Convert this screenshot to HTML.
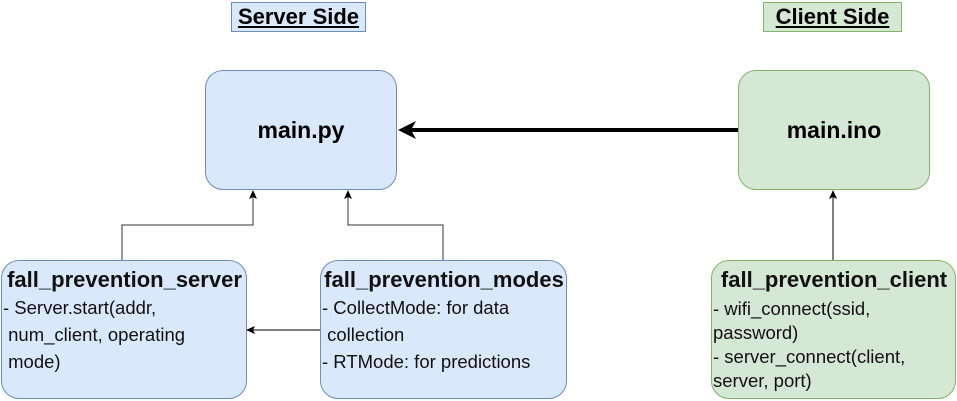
<!DOCTYPE html>
<html><head><style>
body{margin:0;width:957px;height:401px;background:#fff;position:relative;font-family:"Liberation Sans",Arial,sans-serif;overflow:hidden}
.b{position:absolute;box-sizing:border-box;border-radius:18px}
.bl{background:#dae8fc;border:1px solid #6c8ebf}
.gr{background:#d5e8d4;border:1px solid #82b366}
.c{display:flex;align-items:center;justify-content:center;font-weight:bold;font-size:23px}
.t{font-size:18.5px;line-height:27px;color:#111;padding:5px 0 0 1px;white-space:nowrap}
.t b{font-size:22px;display:block;text-align:center;line-height:28px;margin-left:-4px;margin-right:-4px}
.h{position:absolute;font-weight:bold;font-size:22px;text-decoration:underline;display:flex;align-items:center;justify-content:center;box-sizing:border-box;height:30px;top:2px}
</style></head><body>
<div class="h" style="left:231px;width:135px;background:#dae8fc;border:1px solid #6c8ebf">Server Side</div>
<div class="h" style="left:763px;width:139px;background:#d5e8d4;border:1px solid #82b366">Client Side</div>
<div class="b bl c" style="left:205px;top:70px;width:192px;height:120px">main.py</div>
<div class="b gr c" style="left:738px;top:70px;width:192px;height:120px">main.ino</div>
<div class="b bl t" style="left:1px;top:260px;width:246px;height:139px"><b>fall_prevention_server</b>- Server.start(addr,<br>&nbsp;num_client, operating<br>&nbsp;mode)</div>
<div class="b bl t" style="left:320px;top:260px;width:247px;height:139px"><b>fall_prevention_modes</b>- CollectMode: for data<br>&nbsp;collection<br>- RTMode: for predictions</div>
<div class="b gr t" style="left:711px;top:260px;width:245px;height:139px;line-height:24px;padding-top:5px"><b style="margin-bottom:3px">fall_prevention_client</b>- wifi_connect(ssid,<br>password)<br>- server_connect(client,<br>server, port)</div>
<svg width="957" height="401" style="position:absolute;left:0;top:0">
<g fill="none" stroke="#000" stroke-width="1">
<polyline points="122,260 122,225 253,225 253,197" stroke="#333"/>
<polyline points="443,260 443,225 348,225 348,197" stroke="#333"/>
<line x1="320" y1="330" x2="252" y2="330"/>
<line x1="833" y1="260" x2="833" y2="197"/>
<line x1="738" y1="130" x2="410" y2="130" stroke-width="4"/>
</g>
<g fill="#000">
<path d="M253,190 l-4,9 l4,-2 l4,2z"/>
<path d="M348,190 l-4,9 l4,-2 l4,2z"/>
<path d="M833,190 l-4,9 l4,-2 l4,2z"/>
<path d="M246,330 l9,-4 l-2,4 l2,4z"/>
<path d="M398,130 l18,-9 l-5,9 l5,9z"/>
</g>
</svg>
</body></html>
